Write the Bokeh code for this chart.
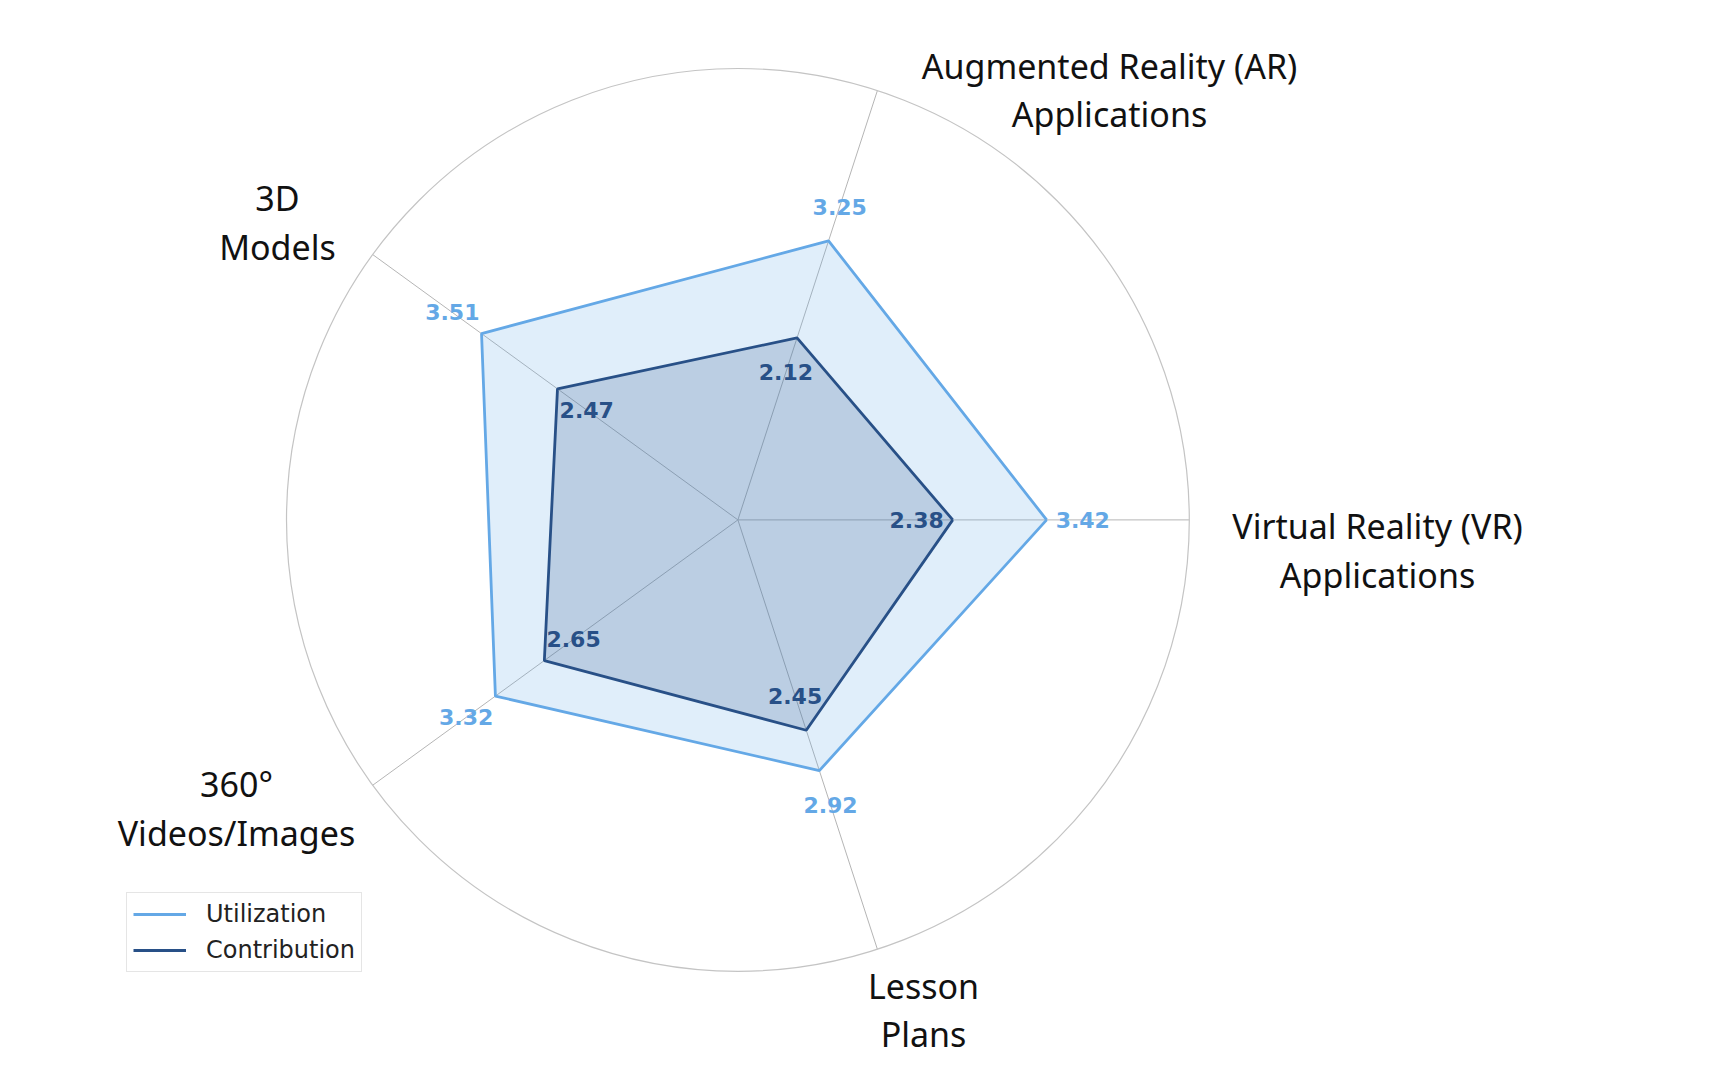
import numpy as np
from bokeh.plotting import figure
from bokeh.models import ColumnDataSource, Legend, LegendItem
from bokeh.core.properties import value
from bokeh.embed import file_html
from bokeh.resources import INLINE

# ---- data ----
categories = [
    "Virtual Reality (VR)\nApplications",
    "Augmented Reality (AR)\nApplications",
    "3D\nModels",
    "360°\nVideos/Images",
    "Lesson\nPlans",
]
utilization = [3.42, 3.25, 3.51, 3.32, 2.92]
contribution = [2.38, 2.12, 2.47, 2.65, 2.45]
series_names = ["Utilization", "Contribution"]
r_max = 5.0

# ---- layout ----
W, H = 1718, 1080
CX, CY = 737.4, 519.4          # centre of the radar in pixels
SCALE = 90.28                  # pixels per unit
LABEL_POS = [(7.085, -0.34), (4.116, 4.762), (-5.10, 3.294), (-5.554, -3.197), (2.056, -5.429)]
VAL_OFF = 0.4

C_UTIL = "#64a8e6"
C_CONT = "#285087"

n = len(categories)
ang = 2 * np.pi * np.arange(n) / n
cos, sin = np.cos(ang), np.sin(ang)

p = figure(width=W, height=H,
           x_range=(-CX / SCALE, (W - CX) / SCALE),
           y_range=(-(H - CY) / SCALE, CY / SCALE),
           output_backend="svg", toolbar_location=None,
           x_axis_location=None, y_axis_location=None,
           min_border=0, outline_line_color=None)
p.grid.visible = False
p.background_fill_color = "white"
p.border_fill_color = "white"

# grid: spokes + outer circle
p.segment(x0=np.zeros(n), y0=np.zeros(n), x1=r_max * cos, y1=r_max * sin,
          line_color="#b5b5b5", line_width=1)
p.circle(x=[0], y=[0], radius=r_max, fill_color=None,
         line_color="#c4c4c4", line_width=1.2)

def closed(vals):
    v = np.asarray(vals)
    xs = list(v * cos) + [v[0] * cos[0]]
    ys = list(v * sin) + [v[0] * sin[0]]
    return xs, ys

ux, uy = closed(utilization)
cx_, cy_ = closed(contribution)

p.patch(ux, uy, fill_color=C_UTIL, fill_alpha=0.2, line_color=None)
p.patch(cx_, cy_, fill_color=C_CONT, fill_alpha=0.2, line_color=None)
r_u = p.line(ux, uy, line_color=C_UTIL, line_width=2.8)
r_c = p.line(cx_, cy_, line_color=C_CONT, line_width=2.8)

# value labels
u = np.asarray(utilization)
c = np.asarray(contribution)
p.text(x=(u + VAL_OFF) * cos, y=(u + VAL_OFF) * sin, text=[f"{v:.2f}" for v in u],
       text_font=value("DejaVu Sans"), text_font_style="bold", text_font_size="22px",
       text_color=C_UTIL, text_align="center", text_baseline="middle")
p.text(x=(c - VAL_OFF) * cos, y=(c - VAL_OFF) * sin, text=[f"{v:.2f}" for v in c],
       text_font=value("DejaVu Sans"), text_font_style="bold", text_font_size="22px",
       text_color=C_CONT, text_align="center", text_baseline="middle")

# category labels
p.text(x=[q[0] for q in LABEL_POS], y=[q[1] for q in LABEL_POS], text=categories,
       text_font=value("Noto Sans"), text_font_size="34px", text_color="#111111",
       text_align="center", text_baseline="middle", text_line_height=1.06)

legend = Legend(items=[LegendItem(label=series_names[0], renderers=[r_u]),
                       LegendItem(label=series_names[1], renderers=[r_c])],
                location=(126, 108), orientation="vertical")
legend.label_text_font = "DejaVu Sans"
legend.label_text_font_size = "24px"
legend.label_text_color = "#222222"
legend.glyph_width = 53
legend.glyph_height = 30
legend.label_height = 30
legend.label_standoff = 20
legend.spacing = 6
legend.padding = 6
legend.margin = 0
legend.border_line_color = "#cccccc"
legend.border_line_width = 1.2
legend.background_fill_color = "white"
legend.background_fill_alpha = 1.0
p.add_layout(legend, "center")

open("out.html", "w").write(file_html(p, INLINE))
